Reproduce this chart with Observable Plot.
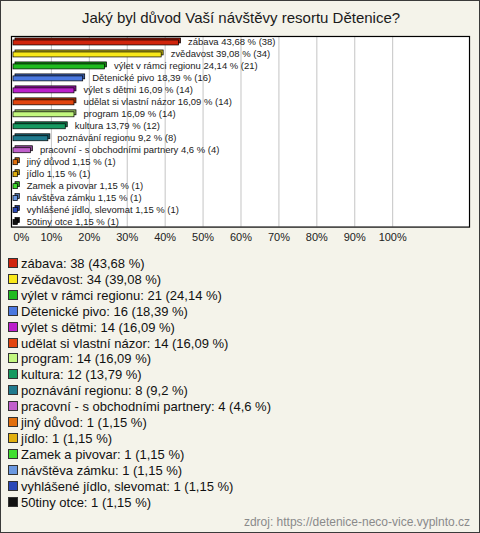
<!DOCTYPE html>
<html>
<head>
<meta charset="utf-8">
<script src="https://cdn.jsdelivr.net/npm/d3@7"></script>
<script src="https://cdn.jsdelivr.net/npm/@observablehq/plot@0.6"></script>
<style>
  html, body { margin: 0; padding: 0; }
  body { width: 480px; height: 533px; overflow: hidden; }
  #box { position: relative; width: 480px; height: 533px; box-sizing: border-box; border: 1px solid #3a3a3a; background: #f4f3ea; font-family: "Liberation Sans", Arial, sans-serif; overflow: hidden; }
  #title { position: absolute; left: 0; width: 480px; top: 8px; text-align: center; font-size: 15px; line-height: 18px; color: #1a1a1a; }
  #chart { position: absolute; left: -1px; top: 27px; line-height: 0; }
  #chart svg { display: block; }
  .row { position: absolute; left: 20px; height: 16px; line-height: 16px; font-size: 13px; color: #111; white-space: nowrap; }
  .sw { position: absolute; left: 7px; width: 8px; height: 8px; border: 1px solid #333; }
  #footer { position: absolute; right: 9px; top: 513px; font-size: 12px; line-height: 16px; color: #8a8a8a; }
</style>
</head>
<body>
<div id="box">
  <div id="title">Jaký byl důvod Vaší návštěvy resortu Dětenice?</div>
  <div id="chart"></div>
  <div id="footer">zdroj: https://detenice-neco-vice.vyplnto.cz</div>
</div>
<script>
const categories = ["zábava", "zvědavost", "výlet v rámci regionu", "Dětenické pivo", "výlet s dětmi", "udělat si vlastní názor", "program", "kultura", "poznávání regionu", "pracovní - s obchodními partnery", "jiný důvod", "jídlo", "Zamek a pivovar", "návštěva zámku", "vyhlášené jídlo, slevomat", "50tiny otce"];
const counts = [38, 34, 21, 16, 14, 14, 14, 12, 8, 4, 1, 1, 1, 1, 1, 1];
const percents = [43.68, 39.08, 24.14, 18.39, 16.09, 16.09, 16.09, 13.79, 9.2, 4.6, 1.15, 1.15, 1.15, 1.15, 1.15, 1.15];
const colors = ["#d0240c", "#f8e81a", "#1fbb1f", "#4a78e0", "#bb1fcc", "#e2440e", "#c2f77e", "#169960", "#1f7a8e", "#c060cc", "#e2700e", "#e2b00e", "#40dd30", "#6a98e0", "#2a48b8", "#111111"];
const xTicks = [0, 10, 20, 30, 40, 50, 60, 70, 80, 90, 100];

const fmt = p => String(p).replace(".", ",");
const data = categories.map((c, i) => ({
  name: c, count: counts[i], pct: percents[i], color: colors[i],
  side: d3.color(colors[i]).darker(0.9).formatHex()
}));

const chart = Plot.plot({
  width: 480,
  height: 222,
  marginLeft: 11,
  marginRight: 10,
  marginTop: 8,
  marginBottom: 23,
  style: { background: "transparent", fontFamily: "'Liberation Sans', Arial, sans-serif" },
  x: { domain: [0, 100], range: [13, 393], axis: null },
  y: { domain: categories, range: [7.5, 200.5], paddingInner: 0.55, paddingOuter: 0.275, axis: null },
  marks: [
    Plot.frame({ fill: "white" }),
    Plot.ruleX(xTicks.filter(t => t > 0), { stroke: "#c4c4c4", strokeWidth: 1 }),
    Plot.barX(data, { x: "pct", y: "name", fill: "side", dx: 2, dy: -1, stroke: "#000", strokeWidth: 0.7 }),
    Plot.barX(data, { x: "pct", y: "name", fill: "color", dy: 1, stroke: "#000", strokeWidth: 0.7 }),
    Plot.text(data, { x: "pct", y: "name", text: d => `${d.name} ${fmt(d.pct)} % (${d.count})`, textAnchor: "start", dx: 9, dy: 0, fontSize: 9.5, fill: "#222" }),
    Plot.frame({ stroke: "#000", strokeWidth: 1.2 }),
    Plot.text(xTicks.filter(t => t > 0), { x: d => d, frameAnchor: "bottom", dy: 14, text: d => d + "%", fontSize: 11, fill: "#222" }),
    Plot.text([0], { x: d => d, frameAnchor: "bottom", dy: 14, text: d => d + "%", textAnchor: "start", fontSize: 11, fill: "#222" })
  ]
});
document.getElementById("chart").appendChild(chart);

const box = document.getElementById("box");
data.forEach((d, i) => {
  const cy = 263 + i * 15.9;
  const sw = document.createElement("div");
  sw.className = "sw";
  sw.style.top = (cy - 6) + "px";
  sw.style.background = d.color;
  box.appendChild(sw);
  const row = document.createElement("div");
  row.className = "row";
  row.style.top = (cy - 8) + "px";
  row.textContent = `${d.name}: ${d.count} (${fmt(d.pct)} %)`;
  box.appendChild(row);
});
</script>
</body>
</html>
